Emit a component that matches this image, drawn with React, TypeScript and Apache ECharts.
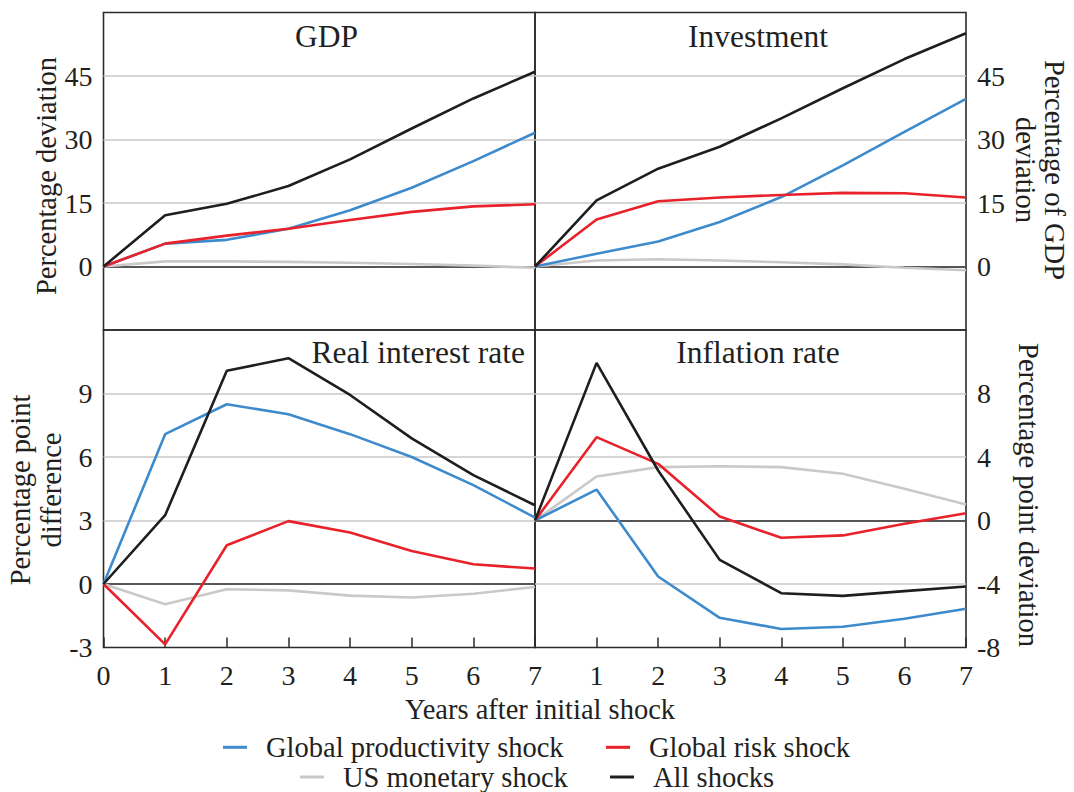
import React, { useEffect, useRef } from "react";
import * as echarts from "echarts";

// ---------- data ----------
const years = [0, 1, 2, 3, 4, 5, 6, 7];
const seriesNames = [
  "Global productivity shock",
  "Global risk shock",
  "US monetary shock",
  "All shocks",
];
const panelTitles = ["GDP", "Investment", "Real interest rate", "Inflation rate"];

// GDP (percentage deviation)
const gdpProductivity = [0, 5.4, 6.3, 8.9, 13.3, 18.6, 24.9, 31.6];
const gdpRisk = [0, 5.4, 7.3, 8.9, 11.0, 12.9, 14.2, 14.7];
const gdpMonetary = [0, 1.2, 1.2, 1.1, 0.9, 0.6, 0.2, -0.3];
const gdpAll = [0, 12.1, 14.8, 19.0, 25.3, 32.6, 39.7, 46.0];

// Investment (percentage of GDP deviation)
const invProductivity = [0, 3.0, 5.9, 10.5, 16.4, 23.9, 31.8, 39.6];
const invRisk = [0, 11.1, 15.4, 16.3, 16.9, 17.4, 17.3, 16.3];
const invMonetary = [0, 1.4, 1.7, 1.4, 1.0, 0.5, -0.3, -0.9];
const invAll = [0, 15.6, 23.1, 28.3, 35.0, 42.1, 49.0, 55.1];

// Real interest rate (percentage point difference)
const rirProductivity = [0, 7.08, 8.49, 8.02, 7.08, 6.0, 4.67, 3.14];
const rirRisk = [0, -2.85, 1.83, 2.97, 2.43, 1.56, 0.93, 0.73];
const rirMonetary = [0, -0.96, -0.25, -0.3, -0.55, -0.64, -0.46, -0.14];
const rirAll = [0, 3.25, 10.07, 10.67, 8.93, 6.88, 5.14, 3.72];

// Inflation rate (percentage point deviation)
const infProductivity = [0, 1.95, -3.53, -6.13, -6.83, -6.69, -6.19, -5.56];
const infRisk = [0, 5.25, 3.57, 0.25, -1.09, -0.94, -0.21, 0.46];
const infMonetary = [0, 2.77, 3.36, 3.42, 3.36, 2.94, 2.0, 1.01];
const infAll = [0, 9.93, 3.15, -2.48, -4.58, -4.75, -4.45, -4.16];

// y-axis ranges per panel [min, max, interval]
const yRanges = [
  [-15, 60, 15],
  [-15, 60, 15],
  [-3, 12, 3],
  [-8, 12, 4],
];

// ---------- styles ----------
const FONT = "'Liberation Serif', 'Times New Roman', Times, serif";
const TEXT = "#231f20";
const FRAME = "#2b2b2b";
const GRIDLINE = "#c8c8c8";
const COLORS: Record<string, string> = {
  "Global productivity shock": "#3d8bcd",
  "Global risk shock": "#e8212b",
  "US monetary shock": "#cdc8c8",
  "All shocks": "#1e1e1e",
};

const panelData = [
  { prod: gdpProductivity, risk: gdpRisk, mon: gdpMonetary, all: gdpAll },
  { prod: invProductivity, risk: invRisk, mon: invMonetary, all: invAll },
  { prod: rirProductivity, risk: rirRisk, mon: rirMonetary, all: rirAll },
  { prod: infProductivity, risk: infRisk, mon: infMonetary, all: infAll },
];

const L = 103.5;
const M = 535;
const R = 966;
const T = 12.5;
const MID = 330;
const B = 647.5;

export default function App() {
  const ref = useRef<HTMLDivElement>(null);

  useEffect(() => {
    if (!ref.current) return;
    const chart = echarts.init(ref.current, null, { renderer: "svg" });

    const grids = [
      { left: L, top: T, width: M - L, height: MID - T },
      { left: M, top: T, width: R - M, height: MID - T },
      { left: L, top: MID, width: M - L, height: B - MID },
      { left: M, top: MID, width: R - M, height: B - MID },
    ].map((g) => ({
      ...g,
      show: true,
      borderColor: FRAME,
      borderWidth: 1.6,
      backgroundColor: "transparent",
      containLabel: false,
    }));

    const xAxes = grids.map((_, i) => ({
      type: "value",
      gridIndex: i,
      position: "bottom",
      min: 0,
      max: 7,
      interval: 1,
      axisLine: { show: false, onZero: false },
      splitLine: { show: false },
      axisTick: {
        show: i >= 2,
        inside: true,
        length: 10,
        lineStyle: { color: FRAME, width: 1.5 },
      },
      axisLabel: {
        show: i >= 2,
        showMinLabel: i === 2,
        fontSize: 28,
        fontFamily: FONT,
        color: TEXT,
        margin: 14,
      },
    }));

    const yAxes = grids.map((_, i) => ({
      type: "value",
      gridIndex: i,
      position: i % 2 === 0 ? "left" : "right",
      min: yRanges[i][0],
      max: yRanges[i][1],
      interval: yRanges[i][2],
      axisLine: { show: false, onZero: false },
      axisTick: { show: false },
      splitLine: {
        show: true,
        showMinLine: false,
        showMaxLine: false,
        lineStyle: { color: GRIDLINE, width: 1.5 },
      },
      axisLabel: {
        showMinLabel: i >= 2,
        showMaxLabel: false,
        fontSize: 28,
        fontFamily: FONT,
        color: TEXT,
        margin: 11,
      },
    }));

    const series: any[] = [];
    panelData.forEach((p, g) => {
      const order: [string, number[]][] = [
        ["US monetary shock", p.mon],
        ["Global productivity shock", p.prod],
        ["Global risk shock", p.risk],
        ["All shocks", p.all],
      ];
      order.forEach(([name, vals], k) => {
        const s: any = {
          type: "line",
          name,
          xAxisIndex: g,
          yAxisIndex: g,
          data: years.map((x, i) => [x, vals[i]]),
          symbol: "none",
          color: COLORS[name],
          itemStyle: { color: COLORS[name] },
          lineStyle: { color: COLORS[name], width: 2.6 },
          z: 3 + k,
          silent: true,
        };
        if (k === 0) {
          s.markLine = {
            silent: true,
            symbol: ["none", "none"],
            label: { show: false },
            lineStyle: { color: FRAME, width: 1.5, type: "solid" },
            data: [{ yAxis: 0 }],
            z: 2,
          };
        }
        series.push(s);
      });
    });

    const legendCommon = {
      orient: "horizontal",
      padding: 0,
      itemWidth: 24,
      itemHeight: 3,
      icon: "rect",
      selectedMode: false,
      textStyle: {
        fontSize: 28.5,
        fontFamily: FONT,
        color: TEXT,
        lineHeight: 28,
        padding: [0, 0, 0, 14],
      },
    };
    const legends = [
      { ...legendCommon, left: 223, top: 732.8, data: [seriesNames[0]] },
      { ...legendCommon, left: 606, top: 732.8, data: [seriesNames[1]] },
      { ...legendCommon, left: 300, top: 762.5, data: [seriesNames[2]] },
      { ...legendCommon, left: 610, top: 762.5, data: [seriesNames[3]] },
    ];

    const txt = (
      text: string,
      x: number,
      y: number,
      opts: { size?: number; align?: string; rotation?: number; lineHeight?: number } = {}
    ) => ({
      type: "text",
      x,
      y,
      rotation: opts.rotation || 0,
      silent: true,
      style: {
        text,
        fill: TEXT,
        fontSize: opts.size || 28.5,
        fontFamily: FONT,
        align: opts.align || "center",
        verticalAlign: "middle",
        lineHeight: opts.lineHeight || 30,
      },
    });

    const graphic = [
      txt(panelTitles[0], 326.6, 36.7, { size: 31.5 }),
      txt(panelTitles[1], 758, 36.7, { size: 31.5 }),
      txt(panelTitles[2], 525, 352.7, { size: 31.5, align: "right" }),
      txt(panelTitles[3], 758, 352.7, { size: 31.5 }),
      txt("Percentage deviation", 46, 176, { rotation: Math.PI / 2 }),
      txt("Percentage point\ndifference", 36, 490, {
        rotation: Math.PI / 2,
        lineHeight: 30.5,
      }),
      txt("Percentage of GDP\ndeviation", 1040, 170, {
        rotation: -Math.PI / 2,
        lineHeight: 29,
      }),
      txt("Percentage point deviation", 1028, 495, { rotation: -Math.PI / 2 }),
      txt("Years after initial shock", 540, 709.5),
    ];

    chart.setOption({
      animation: false,
      backgroundColor: "#ffffff",
      grid: grids,
      xAxis: xAxes,
      yAxis: yAxes,
      series,
      legend: legends,
      graphic,
    });

    return () => chart.dispose();
  }, []);

  return (
    <div
      ref={ref}
      style={{
        position: "absolute",
        left: 0,
        top: 0,
        width: 1074,
        height: 792,
        background: "#fff",
      }}
    />
  );
}
